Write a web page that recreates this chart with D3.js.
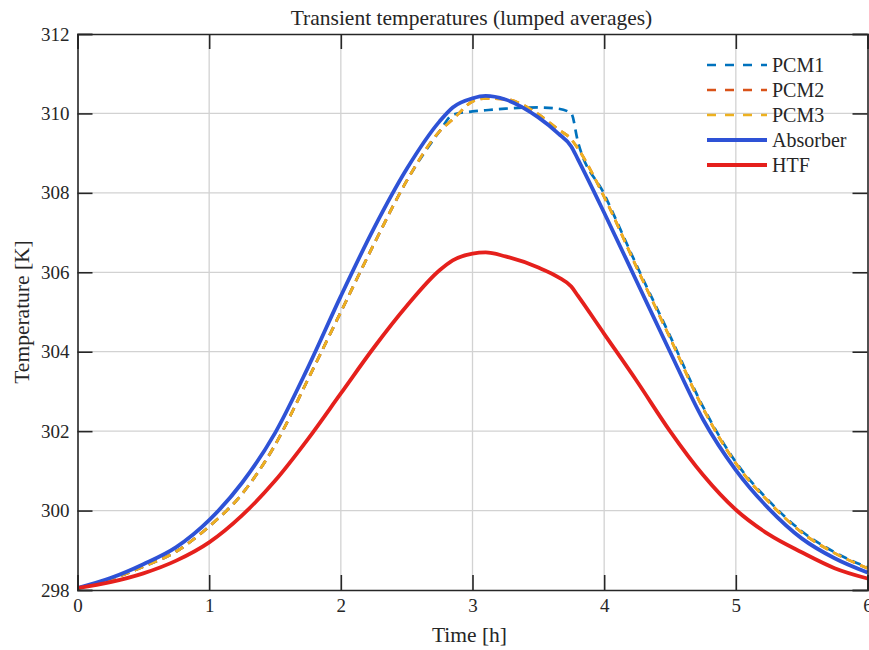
<!DOCTYPE html>
<html>
<head>
<meta charset="utf-8">
<script src="https://cdn.jsdelivr.net/npm/d3@7"></script>
<style>
  html, body { margin: 0; padding: 0; background: #fff; }
  svg { display: block; }
  text { font-family: "Liberation Serif", "Times New Roman", serif; fill: #262626; }
</style>
</head>
<body>
<svg id="chart" width="869" height="650"></svg>
<script>
// Time axis [h]
const time = [0, 0.25, 0.5, 0.75, 1, 1.25, 1.5, 1.75, 2, 2.25, 2.5, 2.75, 2.85, 3, 3.1, 3.25, 3.5, 3.65, 3.75, 3.8, 4, 4.25, 4.5, 4.75, 5, 5.25, 5.5, 5.75, 6];

// Lumped average temperatures [K]
const pcm1     = [298.05, 298.27, 298.59, 298.97, 299.6, 300.42, 301.65, 303.3, 305.0, 306.7, 308.3, 309.55, 309.97, 310.05, 310.08, 310.12, 310.15, 310.12, 310.0, 309.3, 307.97, 306.15, 304.4, 302.62, 301.22, 300.25, 299.48, 298.95, 298.57];
const pcm2     = [298.05, 298.27, 298.59, 298.97, 299.6, 300.42, 301.65, 303.3, 305.0, 306.7, 308.3, 309.55, 309.85, 310.3, 310.38, 310.36, 309.98, 309.6, 309.35, 309.12, 307.9, 306.1, 304.35, 302.58, 301.19, 300.22, 299.45, 298.93, 298.55];
const pcm3     = [298.05, 298.27, 298.59, 298.97, 299.6, 300.42, 301.65, 303.3, 305.0, 306.7, 308.3, 309.55, 309.85, 310.3, 310.38, 310.36, 309.98, 309.6, 309.35, 309.12, 307.9, 306.1, 304.35, 302.58, 301.19, 300.22, 299.45, 298.93, 298.55];
const absorber = [298.05, 298.3, 298.65, 299.08, 299.76, 300.7, 301.95, 303.6, 305.4, 307.1, 308.6, 309.8, 310.15, 310.38, 310.44, 310.35, 309.9, 309.5, 309.17, 308.85, 307.5, 305.75, 304.0, 302.3, 301.02, 300.05, 299.3, 298.8, 298.44];
const htf      = [298.05, 298.2, 298.42, 298.74, 299.2, 299.88, 300.75, 301.8, 302.95, 304.1, 305.15, 306.05, 306.3, 306.47, 306.5, 306.4, 306.12, 305.88, 305.64, 305.41, 304.45, 303.25, 302.0, 300.9, 300.02, 299.4, 298.95, 298.55, 298.29];

const seriesNames  = ["PCM1", "PCM2", "PCM3", "Absorber", "HTF"];
const seriesValues = [pcm1, pcm2, pcm3, absorber, htf];
const seriesColors = ["#0072BD", "#D95319", "#EDB120", "#2E52D6", "#E5201C"];
const seriesDashed = [true, true, true, false, false];

const xTicks = [0, 1, 2, 3, 4, 5, 6];
const yTicks = [298, 300, 302, 304, 306, 308, 310, 312];

const titleText = "Transient temperatures (lumped averages)";
const xLabel = "Time [h]";
const yLabel = "Temperature [K]";

// Layout
const W = 869, H = 650;
const m = { left: 77.5, right: 1.5, top: 34, bottom: 60 };
const pw = W - m.left - m.right;
const ph = H - m.top - m.bottom;
const tickLen = 15;

const svg = d3.select("#chart");
const g = svg.append("g").attr("transform", `translate(${m.left},${m.top})`);

const x = d3.scaleLinear().domain([0, 6]).range([0, pw]);
const y = d3.scaleLinear().domain([298, 312]).range([ph, 0]);

// Grid
const grid = g.append("g").attr("stroke", "#d2d2d2").attr("stroke-width", 1.3);
grid.selectAll("line.gx").data(xTicks.slice(1, -1)).join("line")
  .attr("x1", d => x(d)).attr("x2", d => x(d)).attr("y1", 0).attr("y2", ph);
grid.selectAll("line.gy").data(yTicks.slice(1, -1)).join("line")
  .attr("y1", d => y(d)).attr("y2", d => y(d)).attr("x1", 0).attr("x2", pw);

// Data lines
const line = d3.line().curve(d3.curveMonotoneX);
seriesValues.forEach((vals, i) => {
  g.append("path")
    .attr("d", line(time.map((t, k) => [x(t), y(vals[k])])))
    .attr("fill", "none")
    .attr("stroke", seriesColors[i])
    .attr("stroke-width", seriesDashed[i] ? 2.7 : 3.8)
    .attr("stroke-dasharray", seriesDashed[i] ? "9,6" : null)
    .attr("stroke-linejoin", "round");
});

// Axes (box with inward ticks on all sides)
const axisColor = "#262626";
const fmt = d3.format("d");
const axB = d3.axisBottom(x).tickValues(xTicks).tickSize(-tickLen).tickPadding(9).tickFormat(fmt);
const axT = d3.axisTop(x).tickValues(xTicks).tickSize(-tickLen).tickFormat("");
const axL = d3.axisLeft(y).tickValues(yTicks).tickSize(-tickLen).tickPadding(8).tickFormat(fmt);
const axR = d3.axisRight(y).tickValues(yTicks).tickSize(-tickLen).tickFormat("");

function styleAxis(sel) {
  sel.attr("font-family", '"Liberation Serif", "Times New Roman", serif');
  sel.select(".domain").attr("stroke", axisColor).attr("stroke-width", 1.6);
  sel.selectAll(".tick line").attr("stroke", axisColor).attr("stroke-width", 1.6);
  sel.selectAll(".tick text").attr("font-size", 19).attr("fill", "#262626");
}
g.append("g").attr("transform", `translate(0,${ph})`).call(axB).call(styleAxis);
g.append("g").call(axT).call(styleAxis);
g.append("g").call(axL).call(styleAxis);
g.append("g").attr("transform", `translate(${pw},0)`).call(axR).call(styleAxis);

// Title and axis labels
svg.append("text").attr("x", m.left + pw / 2 - 1).attr("y", 25)
  .attr("text-anchor", "middle").attr("font-size", 21.5).text(titleText);
svg.append("text").attr("x", m.left + pw / 2 - 3).attr("y", 642)
  .attr("text-anchor", "middle").attr("font-size", 21.5).text(xLabel);
svg.append("text").attr("transform", `translate(29,${m.top + ph / 2}) rotate(-90)`)
  .attr("text-anchor", "middle").attr("font-size", 21.5).text(yLabel);

// Legend
const lg = svg.append("g").attr("transform", "translate(707,65)");
seriesNames.forEach((name, i) => {
  const row = lg.append("g").attr("transform", `translate(0,${i * 25})`);
  row.append("line").attr("x1", 0).attr("x2", 60).attr("y1", 0).attr("y2", 0)
    .attr("stroke", seriesColors[i])
    .attr("stroke-width", seriesDashed[i] ? 2.7 : 3.8)
    .attr("stroke-dasharray", seriesDashed[i] ? "9,9" : null);
  row.append("text").attr("x", 65).attr("y", 0).attr("dy", "0.35em")
    .attr("font-size", 20).text(name);
});
</script>
</body>
</html>
